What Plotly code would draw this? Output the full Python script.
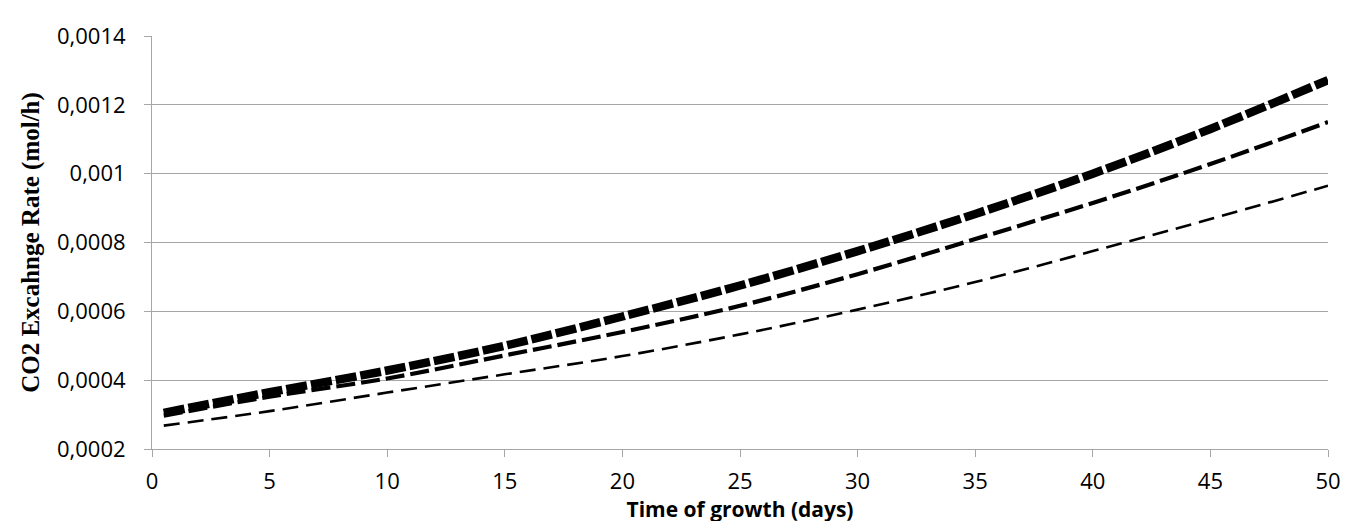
import plotly.graph_objects as go

# Time of growth (days)
days = [0.5, 5, 10, 15, 20, 25, 30, 35, 40, 45, 50]

# CO2 exchange rate (mol/h) for the three curves
series_thick = [0.000305, 0.000365, 0.000428, 0.000500, 0.000585, 0.000675,
                0.000775, 0.000883, 0.001000, 0.001130, 0.001272]
series_medium = [0.000297, 0.000352, 0.000405, 0.000472, 0.000540, 0.000616,
                 0.000708, 0.000810, 0.000915, 0.001028, 0.001150]
series_thin = [0.000268, 0.000310, 0.000364, 0.000417, 0.000470, 0.000533,
               0.000605, 0.000685, 0.000775, 0.000868, 0.000965]

y_tickvals = [0.0002, 0.0004, 0.0006, 0.0008, 0.001, 0.0012, 0.0014]
y_ticktext = ["0,0002", "0,0004", "0,0006", "0,0008", "0,001", "0,0012", "0,0014"]
x_tickvals = [0, 5, 10, 15, 20, 25, 30, 35, 40, 45, 50]

fig = go.Figure()
fig.add_trace(go.Scatter(x=days, y=series_thin, mode="lines",
                         line=dict(color="black", width=2.6, dash="16px,8px", shape="spline"),
                         showlegend=False))
fig.add_trace(go.Scatter(x=days, y=series_medium, mode="lines",
                         line=dict(color="black", width=4.2, dash="19px,6px", shape="spline"),
                         showlegend=False))
fig.add_trace(go.Scatter(x=days, y=series_thick, mode="lines",
                         line=dict(color="black", width=8.5, dash="21px,4px", shape="spline"),
                         showlegend=False))

grid = "#a6a6a6"
fig.update_layout(
    width=1351, height=521,
    margin=dict(l=144, r=31, t=25, b=80),
    paper_bgcolor="white", plot_bgcolor="white",
    font=dict(family="Open Sans", size=22, color="black"),
    xaxis=dict(range=[0, 50], tickvals=x_tickvals, showgrid=False,
               showline=True, linecolor=grid, linewidth=1,
               ticks="outside", ticklen=7, tickcolor=grid,
               ticklabelstandoff=6, zeroline=False,
               title=dict(text="<b>Time of growth (days)</b>", standoff=4,
                          font=dict(family="Open Sans", size=21, color="black"))),
    yaxis=dict(range=[0.0002, 0.0014], tickvals=y_tickvals, ticktext=y_ticktext,
               showgrid=True, gridcolor=grid, gridwidth=1,
               showline=True, linecolor=grid, linewidth=1,
               ticks="outside", ticklen=7, tickcolor=grid,
               ticklabelstandoff=14, zeroline=False,
               title=dict(text="<b>CO2 Excahnge Rate (mol/h)</b>", standoff=10,
                          font=dict(family="Liberation Serif", size=25, color="black"))),
)

fig.write_html("out.html")
